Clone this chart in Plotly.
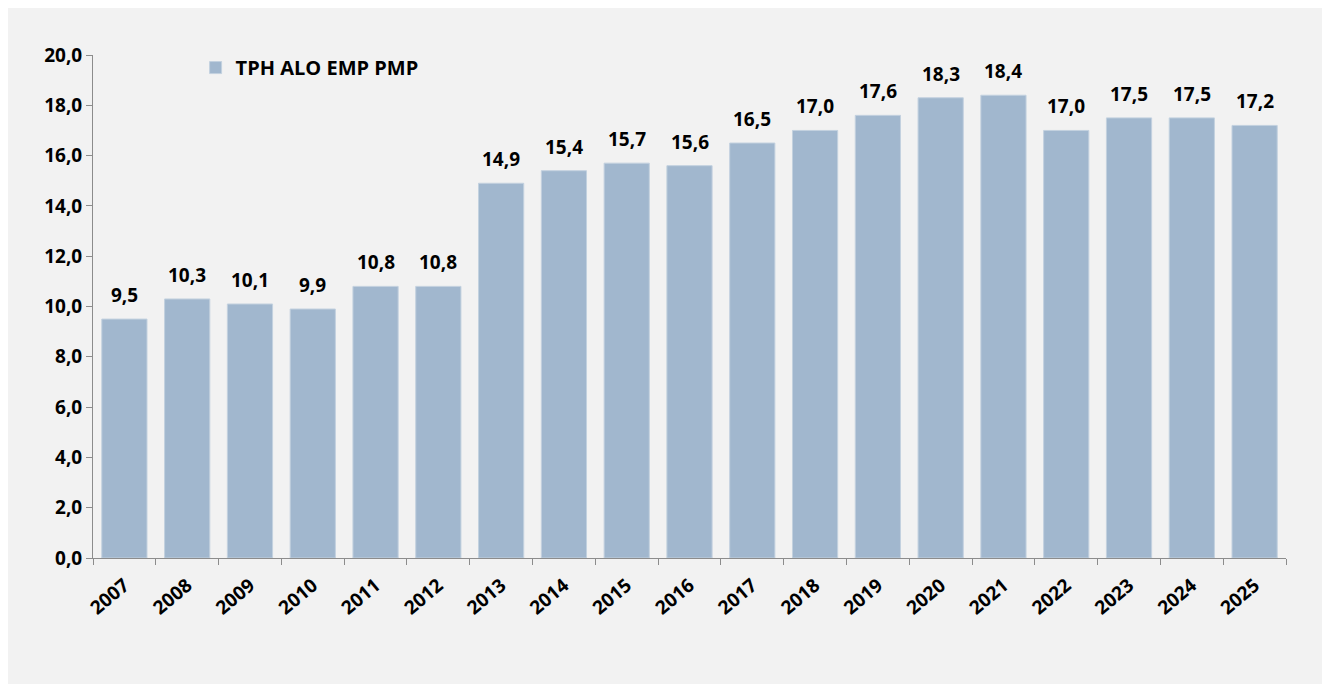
import plotly.graph_objects as go

years = ["2007", "2008", "2009", "2010", "2011", "2012", "2013", "2014", "2015", "2016",
         "2017", "2018", "2019", "2020", "2021", "2022", "2023", "2024", "2025"]
values = [9.5, 10.3, 10.1, 9.9, 10.8, 10.8, 14.9, 15.4, 15.7, 15.6,
          16.5, 17.0, 17.6, 18.3, 18.4, 17.0, 17.5, 17.5, 17.2]
series_name = "TPH ALO EMP PMP"
y_ticks = [0, 2, 4, 6, 8, 10, 12, 14, 16, 18, 20]

FONT = "'Open Sans', sans-serif"
BAR = "#a1b7ce"
BG = "#f2f2f2"

fig = go.Figure()
fig.add_trace(go.Bar(
    x=years, y=values, name=series_name,
    marker=dict(color=BAR, line=dict(color="#c3d1df", width=1)),
    showlegend=True,
))

for i, v in enumerate(values):
    fig.add_annotation(
        x=i, y=v, text="<b>" + f"{v:.1f}".replace(".", ",") + "</b>",
        showarrow=False, yanchor="bottom", yshift=9,
        font=dict(family=FONT, size=19, color="#000000"),
    )

fig.update_layout(
    width=1322, height=676,
    margin=dict(l=85, r=44, t=47, b=126),
    paper_bgcolor=BG, plot_bgcolor=BG,
    separators=",.",
    bargap=0.28,
    font=dict(family=FONT, size=19, color="#000000"),
    legend=dict(x=0.086, y=0.975, xanchor="left", yanchor="middle",
                bgcolor="rgba(0,0,0,0)", font=dict(family=FONT, size=20, weight="bold"),
                itemwidth=30),
    xaxis=dict(
        type="category", showline=True, linecolor="#8c8c8c", linewidth=1,
        ticks="outside", ticklen=6, tickcolor="#8c8c8c", tickson="boundaries",
        tickangle=-40, tickfont=dict(family=FONT, size=19, weight="bold"),
        ticklabelstandoff=8, showgrid=False,
    ),
    yaxis=dict(
        range=[0, 20], tickvals=y_ticks, tickformat=".1f",
        showline=True, linecolor="#8c8c8c", linewidth=1,
        ticks="outside", ticklen=6, tickcolor="#8c8c8c",
        tickfont=dict(family=FONT, size=19, weight="bold"),
        showgrid=False, zeroline=False,
    ),
)

fig.write_html("out.html")
